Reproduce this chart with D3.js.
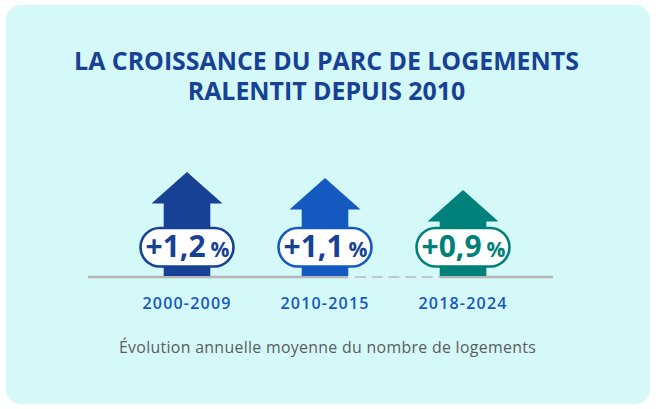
<!DOCTYPE html>
<html><head><meta charset="utf-8">
<script src="https://cdn.jsdelivr.net/npm/d3@7/dist/d3.min.js"></script>
<style>html,body{margin:0;padding:0;background:#fff}svg{display:block}text{font-family:"Open Sans",sans-serif}</style>
</head><body><div id="c"></div>
<script>
const periods=["2000-2009","2010-2015","2018-2024"];
const values=[1.2,1.1,0.9];
const valueLabels=["+1,2","+1,1","+0,9"];
const arrowColors=["#164194","#1359c0","#00807a"];
const textColors=["#164194","#164194","#00807a"];
const pillColors=["#164194","#1359c0","#00807a"];
const titleLines=["LA CROISSANCE DU PARC DE LOGEMENTS","RALENTIT DEPUIS 2010"];
const caption="Évolution annuelle moyenne du nombre de logements";

const W=656,H=409;
const svg=d3.select("#c").append("svg").attr("width",W).attr("height",H);
svg.append("rect").attr("x",6).attr("y",5).attr("width",644).attr("height",399).attr("rx",15).attr("fill","#d5f8f9");

svg.selectAll("text.title").data(titleLines).join("text").attr("class","title")
 .attr("x",326.5).attr("y",(d,i)=>69.5+i*30).attr("text-anchor","middle")
 .attr("font-size",24.9).attr("font-weight",700).attr("fill","#164194").text(d=>d);

const x=d3.scalePoint().domain(periods).range([187,463]);
const y=d3.scaleLinear().domain([-0.55,1.2]).range([277,172]);
const base=y.range()[0];

svg.append("line").attr("x1",88).attr("x2",x(periods[1])+23).attr("y1",base).attr("y2",base).attr("stroke","#b5b5b5").attr("stroke-width",2.6);
svg.append("line").attr("x1",x(periods[1])+30).attr("x2",x(periods[2])-23).attr("y1",base).attr("y2",base).attr("stroke","#b5b9ba").attr("stroke-width",1.6).attr("stroke-dasharray","11 5.7");
svg.append("line").attr("x1",x(periods[2])-23).attr("x2",553).attr("y1",base).attr("y2",base).attr("stroke","#b5b5b5").attr("stroke-width",2.6);

const g=svg.selectAll("g.a").data(periods).join("g").attr("class","a").attr("transform",d=>`translate(${x(d)},0)`);
g.append("path").attr("fill",(d,i)=>arrowColors[i]).attr("d",(d,i)=>{
  const t=y(values[i]),hb=t+31.5;
  return d3.line()([[0,t],[35.5,hb],[23.3,hb],[23.3,base-1],[-23.3,base-1],[-23.3,hb],[-35.5,hb]])+"Z";
});
g.append("rect").attr("x",-46.5).attr("y",228).attr("width",93).attr("height",38.5).attr("rx",19.25)
 .attr("fill","#fff").attr("stroke",(d,i)=>pillColors[i]).attr("stroke-width",2.6);
const t=g.append("text").attr("x",0.5).attr("y",257).attr("text-anchor","middle").attr("fill",(d,i)=>textColors[i]).attr("font-weight",700);
t.append("tspan").attr("font-size",30).text((d,i)=>valueLabels[i]);
t.append("tspan").attr("font-size",21).attr("dx",5).text("%");
g.append("text").attr("y",308.5).attr("text-anchor","middle").attr("font-size",16).attr("font-weight",600).attr("fill","#1359c0").attr("letter-spacing",1.2).text(d=>d);

svg.append("text").attr("x",327.5).attr("y",353).attr("text-anchor","middle").attr("font-size",15.9).attr("font-weight",500).attr("fill","#5c5c5c").attr("letter-spacing",0.3).text(caption);
</script></body></html>
